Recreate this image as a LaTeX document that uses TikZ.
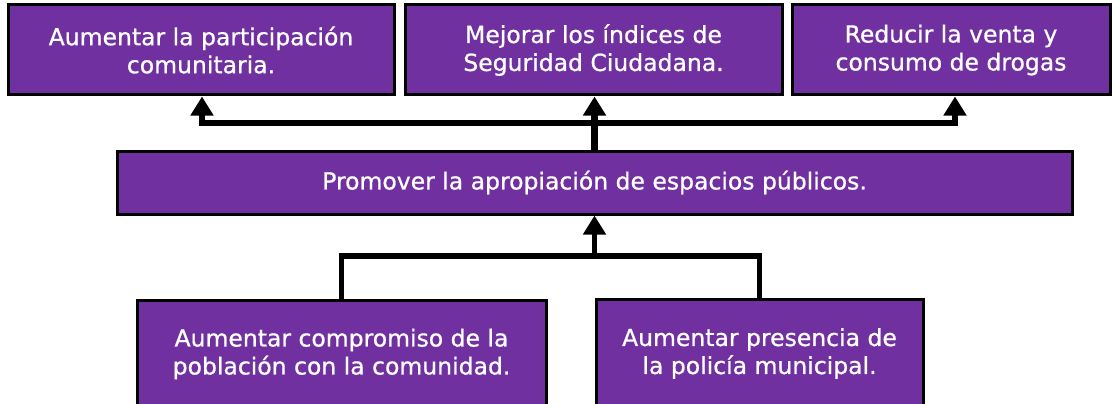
\documentclass[tikz,border=0pt]{standalone}
\usepackage{fontspec}
\newfontfamily\boxfont{DejaVu Sans}[FakeBold=0.8]
\usetikzlibrary{arrows.meta,calc}
\definecolor{boxpurple}{RGB}{112,48,160}
\tikzset{
  pbox/.style={draw=black, line width=3pt, fill=boxpurple, text=white,
    align=center, inner sep=0pt, font=\boxfont\fontsize{23.5}{28}\selectfont},
  conn/.style={line width=6.5pt, draw=black},
  connthin/.style={line width=5.5pt, draw=black},
  upar/.style={-{Triangle[width=22pt,length=19pt]}},
}
\begin{document}
\begin{tikzpicture}[x=1pt,y=-1pt]
\useasboundingbox (0,0) rectangle (1112,404);
\clip (0,0) rectangle (1112,404);
\node[pbox, minimum width=386pt, minimum height=90pt] (b1) at (201,50) {Aumentar la participación\\comunitaria.};
\node[pbox, minimum width=377pt, minimum height=90pt] (b2) at (593.5,50) {Mejorar los índices de\\Seguridad Ciudadana.};
\node[pbox, minimum width=318pt, minimum height=90pt] (b3) at (951,50) {Reducir la venta y\\consumo de drogas};
\node[pbox, minimum width=955pt, minimum height=63pt] (m) at (594.5,182.5) {Promover la apropiación de espacios públicos.};
\node[pbox, minimum width=409pt, minimum height=108pt] (b4) at (341.5,354) {Aumentar compromiso de la\\población con la comunidad.};
\node[pbox, minimum width=327pt, minimum height=109pt] (b5) at (759.5,353.5) {Aumentar presencia de\\la policía municipal.};
\coordinate (j1) at (594.5,123);
\coordinate (j2) at (594.5,256);
\draw[conn, upar] (m.north) -- (m.north |- b2.south);
\draw[conn, upar] (j1) -| ([xshift=1pt]b1.south);
\draw[conn, upar] (j1) -| ([xshift=4pt]b3.south);
\draw[connthin] (b4.north) |- (b5.north |- j2) -- (b5.north);
\draw[connthin, upar] (j2) -- (m.south);
\end{tikzpicture}
\end{document}
